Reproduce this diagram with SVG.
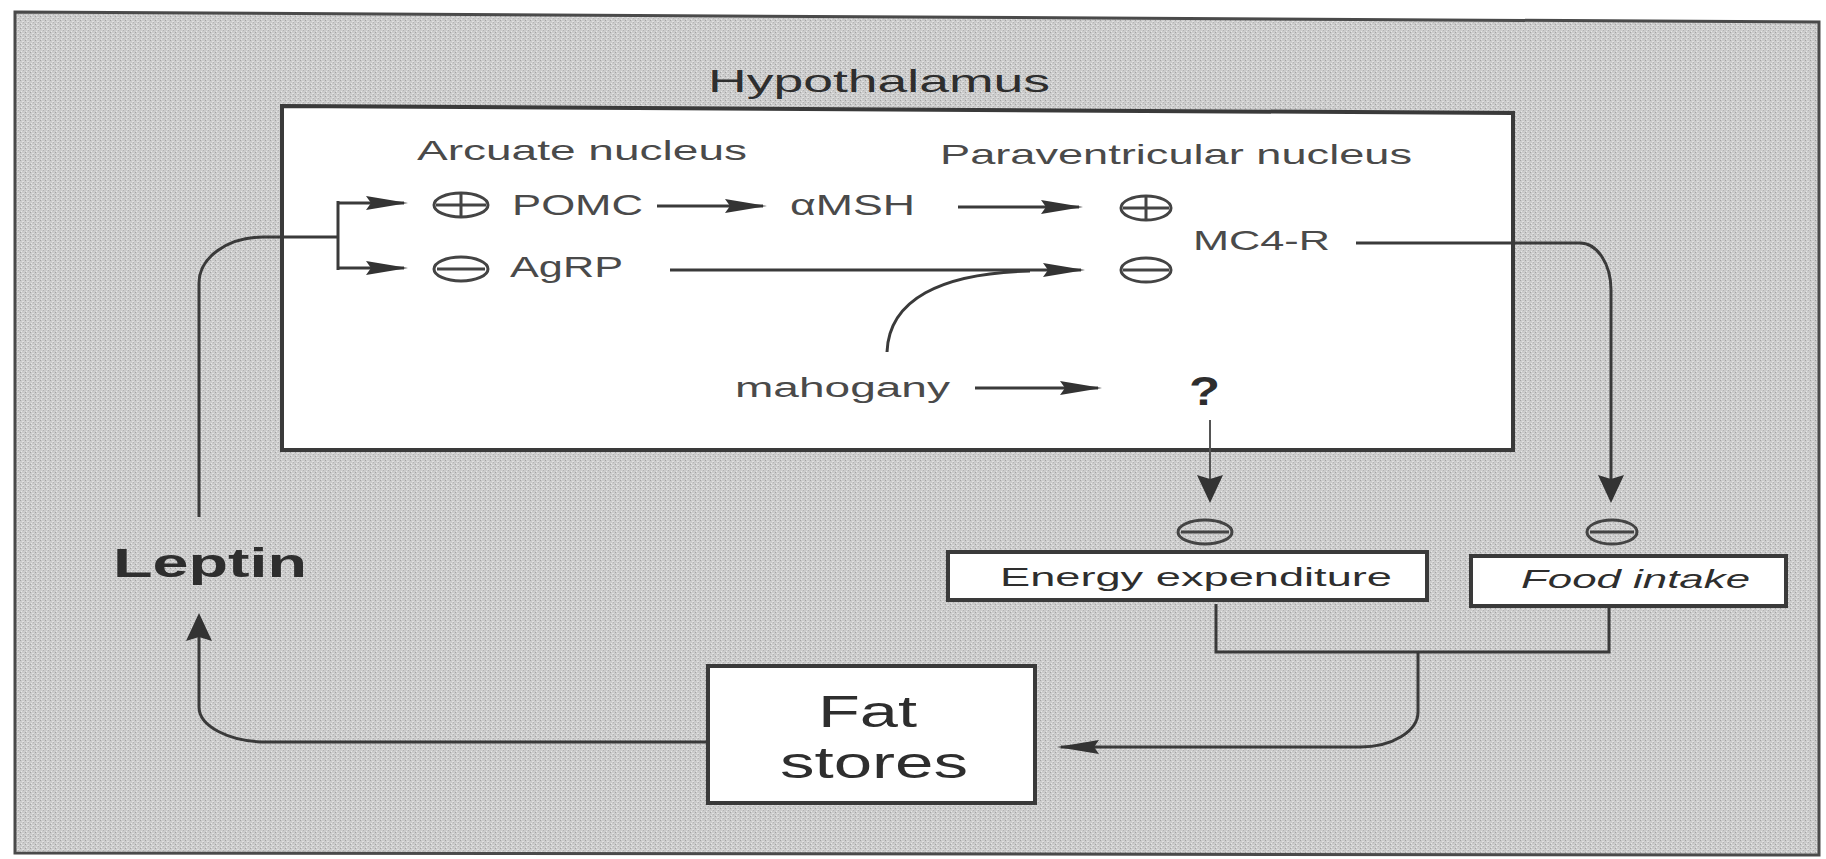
<svg xmlns="http://www.w3.org/2000/svg" width="1826" height="859" viewBox="0 0 1826 859">
<style>
.t{font-family:"Liberation Sans",Arial,sans-serif;fill:#4a4a4a}
.d{fill:#2e2e2e}
.ln{fill:none;stroke:#3a3a3a;stroke-width:3}
.thin{fill:none;stroke:#555;stroke-width:2}
.sym{fill:none;stroke:#444;stroke-width:3}
.box{fill:#fff;stroke:#3a3a3a;stroke-width:4}
</style>
<defs>
<pattern id="noise" width="5" height="4" patternUnits="userSpaceOnUse">
<rect width="5" height="4" fill="#cbcbcb"/>
<rect x="0" y="0" width="1" height="1" fill="#a2a2a2"/>
<rect x="2" y="1" width="2" height="1" fill="#e0e0e0"/>
<rect x="3" y="2" width="1" height="1" fill="#b2b2b2"/>
<rect x="1" y="3" width="1" height="1" fill="#e6e6e6"/>
</pattern>
<marker id="ah" viewBox="0 0 42 16" refX="38" refY="8" markerWidth="42" markerHeight="16" markerUnits="userSpaceOnUse" orient="auto"><path d="M0,1 L42,8 L0,15 L5,8 Z" fill="#333"/></marker>
<marker id="av" viewBox="0 0 28 26" refX="24" refY="13" markerWidth="28" markerHeight="26" markerUnits="userSpaceOnUse" orient="auto"><path d="M0,0 L28,13 L0,26 L4,13 Z" fill="#333"/></marker>
</defs>
<rect width="1826" height="859" fill="#fff"/>
<path id="frame" d="M15,12 L1819,22 L1819,855 L15,853 Z" fill="url(#noise)" stroke="#4a4a4a" stroke-width="3"/>

<g id="hypothalamus">
<path d="M282,106 L1513,113 L1513,450 L282,450 Z" class="box"/>
<text class="t d" x="708" y="92" font-size="32" textLength="342" lengthAdjust="spacingAndGlyphs">Hypothalamus</text>
</g>
<g id="arcuate-label"><text class="t" x="417" y="160" font-size="28" textLength="330" lengthAdjust="spacingAndGlyphs">Arcuate nucleus</text></g>
<g id="pvn-label"><text class="t" x="940" y="164" font-size="28" textLength="472" lengthAdjust="spacingAndGlyphs">Paraventricular nucleus</text></g>

<g id="pomc">
<ellipse cx="461" cy="205" rx="27" ry="12" class="sym"/>
<path d="M436,205 H486 M461,194 V216" class="sym"/>
<text class="t" x="512" y="215" font-size="30" textLength="131" lengthAdjust="spacingAndGlyphs">POMC</text>
</g>
<g id="agrp">
<ellipse cx="461" cy="269" rx="27" ry="12" class="sym"/>
<path d="M437,269 H485" class="sym"/>
<text class="t" x="510" y="277" font-size="29" textLength="113" lengthAdjust="spacingAndGlyphs">AgRP</text>
</g>
<g id="amsh"><text class="t" x="790" y="215" font-size="29" textLength="125" lengthAdjust="spacingAndGlyphs">αMSH</text></g>
<g id="pvn-plus">
<ellipse cx="1146" cy="208" rx="25" ry="12" class="sym"/>
<path d="M1123,208 H1169 M1146,197 V219" class="sym"/>
</g>
<g id="pvn-minus">
<ellipse cx="1146" cy="270" rx="25" ry="12" class="sym"/>
<path d="M1123,270 H1169" class="sym"/>
</g>
<g id="mc4r"><text class="t" x="1193" y="250" font-size="28" textLength="137" lengthAdjust="spacingAndGlyphs">MC4-R</text></g>
<g id="mahogany"><text class="t" x="735" y="397" font-size="27" textLength="215" lengthAdjust="spacingAndGlyphs">mahogany</text></g>
<g id="unknown"><text class="t d" x="1189" y="405" font-size="40" font-weight="bold" textLength="31" lengthAdjust="spacingAndGlyphs">?</text></g>

<g id="ee-minus">
<ellipse cx="1205" cy="532" rx="27" ry="12" class="sym"/>
<path d="M1181,532 H1229" class="sym"/>
</g>
<g id="fi-minus">
<ellipse cx="1612" cy="532" rx="25" ry="12" class="sym"/>
<path d="M1590,532 H1634" class="sym"/>
</g>
<g id="energy">
<rect x="948" y="552" width="479" height="48" class="box"/>
<text class="t d" x="1000" y="586" font-size="25" textLength="392" lengthAdjust="spacingAndGlyphs">Energy expenditure</text>
</g>
<g id="food">
<rect x="1471" y="556" width="315" height="50" class="box"/>
<text class="t d" x="1521" y="588" font-size="25" font-style="italic" textLength="229" lengthAdjust="spacingAndGlyphs">Food intake</text>
</g>
<g id="fat">
<rect x="708" y="666" width="327" height="137" class="box" stroke-width="5"/>
<text class="t d" x="818" y="727" font-size="44" textLength="99" lengthAdjust="spacingAndGlyphs">Fat</text>
<text class="t d" x="780" y="778" font-size="44" textLength="188" lengthAdjust="spacingAndGlyphs">stores</text>
</g>
<g id="leptin"><text class="t d" x="113" y="577" font-size="41" font-weight="bold" textLength="194" lengthAdjust="spacingAndGlyphs">Leptin</text></g>

<g id="connectors">
<path d="M338,201 V270" class="ln" stroke-width="4"/>
<path d="M338,203 H404" class="ln" marker-end="url(#ah)"/>
<path d="M338,268 H404" class="ln" marker-end="url(#ah)"/>
<path d="M199,517 V283 A64,46 0 0 1 263,237 H338" class="ln"/>
<path d="M706,742 H267 A68,35 0 0 1 199,707 V617" class="ln" marker-end="url(#av)"/>
<path d="M657,206 H763" class="ln" marker-end="url(#ah)"/>
<path d="M958,207 H1079" class="ln" marker-end="url(#ah)"/>
<path d="M670,270 H1081" class="ln" marker-end="url(#ah)"/>
<path d="M887,352 C889,300 940,273 1030,271" class="ln"/>
<path d="M975,388 H1098" class="ln" marker-end="url(#ah)"/>
<path d="M1210,420 V499" class="thin" marker-end="url(#av)"/>
<path d="M1356,243 H1580 A31,47 0 0 1 1611,290 V499" class="ln" marker-end="url(#av)"/>
<path d="M1216,604 V652 H1609 V608" class="ln"/>
<path d="M1418,652 V712 A58,35 0 0 1 1360,747 H1061" class="ln" marker-end="url(#ah)"/>
</g>
</svg>
